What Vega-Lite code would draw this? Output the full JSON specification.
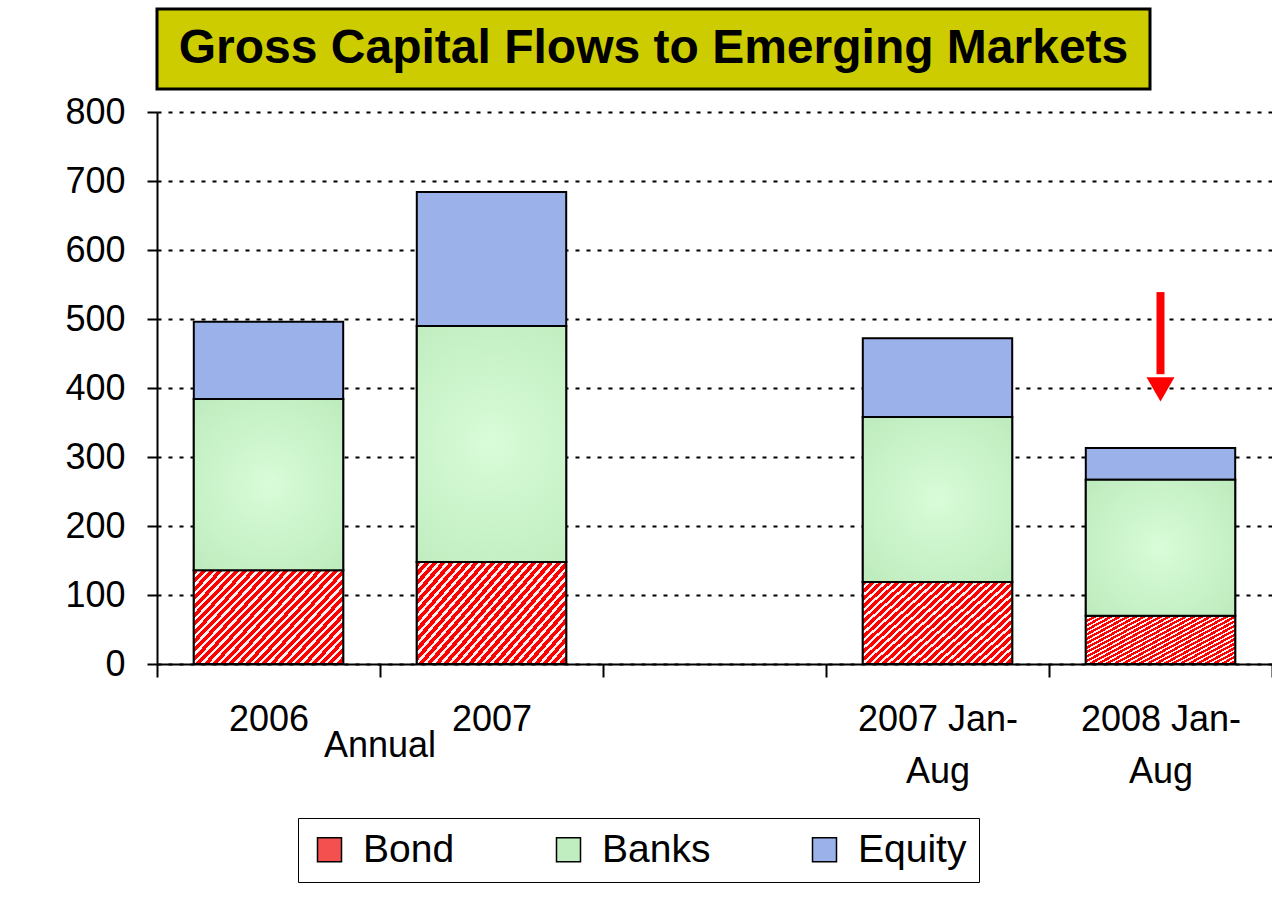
{
  "$schema": "https://vega.github.io/schema/vega-lite/v6.json",
  "padding": {"left": 35, "top": 7, "right": 0, "bottom": 5},
  "background": "white",
  "config": {"font": "Liberation Sans", "view": {"stroke": null}},
  "spacing": 3,
  "datasets": {
    "flows": [
      {"cat": "2006", "series": "Bond", "value": 136},
      {"cat": "2006", "series": "Banks", "value": 248},
      {"cat": "2006", "series": "Equity", "value": 112},
      {"cat": "2007", "series": "Bond", "value": 148},
      {"cat": "2007", "series": "Banks", "value": 342},
      {"cat": "2007", "series": "Equity", "value": 194},
      {"cat": "2007 Jan-Aug", "series": "Bond", "value": 119},
      {"cat": "2007 Jan-Aug", "series": "Banks", "value": 239},
      {"cat": "2007 Jan-Aug", "series": "Equity", "value": 114},
      {"cat": "2008 Jan-Aug", "series": "Bond", "value": 70},
      {"cat": "2008 Jan-Aug", "series": "Banks", "value": 197},
      {"cat": "2008 Jan-Aug", "series": "Equity", "value": 46}
    ],
    "arrow": [
      {"cat": "2008 Jan-Aug", "top": 539, "base": 420, "head": 398}
    ],
    "group": [
      {"cat": "2007", "t": "Annual"}
    ],
    "heading": [
      {"t": "Gross Capital Flows to Emerging Markets"}
    ]
  },
  "vconcat": [
    {
      "width": 993,
      "height": 80,
      "view": {"fill": "#CCCC00", "stroke": "black", "strokeWidth": 3},
      "data": {"name": "heading"},
      "mark": {"type": "text", "fontSize": 48, "fontWeight": "bold", "color": "black", "baseline": "middle", "align": "center"},
      "encoding": {
        "y": {"field": "t", "type": "nominal", "axis": {"title": null, "labels": false, "ticks": false, "domain": false, "grid": false, "minExtent": 120, "maxExtent": 120}},
        "text": {"field": "t", "type": "nominal"}
      }
    },
    {
      "width": 1115,
      "height": 552,
      "layer": [
        {
          "data": {"name": "flows"},
          "transform": [{"calculate": "indexof(['Bond','Banks','Equity'], datum.series)", "as": "ord"}],
          "mark": {"type": "bar", "stroke": "black", "strokeWidth": 2, "width": {"band": 0.67}},
          "encoding": {
            "x": {
              "field": "cat",
              "type": "nominal",
              "scale": {"domain": ["2006", "2007", " ", "2007 Jan-Aug", "2008 Jan-Aug"], "paddingInner": 0, "paddingOuter": 0},
              "axis": {
                "title": null,
                "labelExpr": "datum.value == '2007 Jan-Aug' ? ['2007 Jan-', 'Aug'] : datum.value == '2008 Jan-Aug' ? ['2008 Jan-', 'Aug'] : datum.label",
                "labelLineHeight": 52,
                "labelFontSize": 36,
                "labelColor": "black",
                "labelAngle": 0,
                "labelPadding": 25,
                "labelOverlap": false,
                "labelLimit": 400,
                "tickBand": "extent",
                "tickSize": 13,
                "tickColor": "black",
                "tickWidth": 2,
                "domainColor": "black",
                "domainWidth": 2,
                "grid": false
              }
            },
            "y": {
              "field": "value",
              "type": "quantitative",
              "stack": "zero",
              "scale": {"domain": [0, 800], "nice": false},
              "axis": {
                "title": null,
                "values": [0, 100, 200, 300, 400, 500, 600, 700, 800],
                "labelFontSize": 36,
                "labelColor": "black",
                "labelPadding": 22,
                "tickSize": 10,
                "tickColor": "black",
                "tickWidth": 2,
                "domainColor": "black",
                "domainWidth": 2,
                "grid": true,
                "gridColor": "black",
                "gridDash": [4, 7],
                "gridWidth": 2
              }
            },
            "order": {"field": "ord", "type": "quantitative"},
            "color": {
              "field": "series",
              "type": "nominal",
              "sort": ["Bond", "Banks", "Equity"],
              "scale": {"domain": ["Bond", "Banks", "Equity"], "range": ["#F55050", "#C0EEC0", "#9BB1EA"]},
              "legend": {
                "title": null,
                "orient": "none",
                "direction": "horizontal",
                "legendX": 141,
                "legendY": 809,
                "columns": 3,
                "strokeColor": "black",
                "padding": 12,
                "symbolType": "square",
                "symbolSize": 576,
                "symbolStrokeColor": "black",
                "symbolStrokeWidth": 1.5,
                "symbolOpacity": 1,
                "labelFontSize": 39,
                "labelColor": "black",
                "labelOffset": 14,
                "columnPadding": 94
              }
            }
          }
        },
        {
          "data": {"name": "flows"},
          "transform": [{"filter": "datum.series == 'Bond'"}],
          "mark": {
            "type": "bar",
            "stroke": "black",
            "strokeWidth": 2,
            "width": {"band": 0.67},
            "fill": {
              "gradient": "linear",
              "x1": 0, "y1": 0, "x2": 1.3, "y2": 0.78,
              "stops": [
                {"offset": 0, "color": "#FF0000"}, {"offset": 0.01875, "color": "#FF0000"}, {"offset": 0.01875, "color": "#FFF2F2"}, {"offset": 0.03125, "color": "#FFF2F2"},
                {"offset": 0.03125, "color": "#FF0000"}, {"offset": 0.05, "color": "#FF0000"}, {"offset": 0.05, "color": "#FFF2F2"}, {"offset": 0.0625, "color": "#FFF2F2"},
                {"offset": 0.0625, "color": "#FF0000"}, {"offset": 0.08125, "color": "#FF0000"}, {"offset": 0.08125, "color": "#FFF2F2"}, {"offset": 0.09375, "color": "#FFF2F2"},
                {"offset": 0.09375, "color": "#FF0000"}, {"offset": 0.1125, "color": "#FF0000"}, {"offset": 0.1125, "color": "#FFF2F2"}, {"offset": 0.125, "color": "#FFF2F2"},
                {"offset": 0.125, "color": "#FF0000"}, {"offset": 0.14375, "color": "#FF0000"}, {"offset": 0.14375, "color": "#FFF2F2"}, {"offset": 0.15625, "color": "#FFF2F2"},
                {"offset": 0.15625, "color": "#FF0000"}, {"offset": 0.175, "color": "#FF0000"}, {"offset": 0.175, "color": "#FFF2F2"}, {"offset": 0.1875, "color": "#FFF2F2"},
                {"offset": 0.1875, "color": "#FF0000"}, {"offset": 0.20625, "color": "#FF0000"}, {"offset": 0.20625, "color": "#FFF2F2"}, {"offset": 0.21875, "color": "#FFF2F2"},
                {"offset": 0.21875, "color": "#FF0000"}, {"offset": 0.2375, "color": "#FF0000"}, {"offset": 0.2375, "color": "#FFF2F2"}, {"offset": 0.25, "color": "#FFF2F2"},
                {"offset": 0.25, "color": "#FF0000"}, {"offset": 0.26875, "color": "#FF0000"}, {"offset": 0.26875, "color": "#FFF2F2"}, {"offset": 0.28125, "color": "#FFF2F2"},
                {"offset": 0.28125, "color": "#FF0000"}, {"offset": 0.3, "color": "#FF0000"}, {"offset": 0.3, "color": "#FFF2F2"}, {"offset": 0.3125, "color": "#FFF2F2"},
                {"offset": 0.3125, "color": "#FF0000"}, {"offset": 0.33125, "color": "#FF0000"}, {"offset": 0.33125, "color": "#FFF2F2"}, {"offset": 0.34375, "color": "#FFF2F2"},
                {"offset": 0.34375, "color": "#FF0000"}, {"offset": 0.3625, "color": "#FF0000"}, {"offset": 0.3625, "color": "#FFF2F2"}, {"offset": 0.375, "color": "#FFF2F2"},
                {"offset": 0.375, "color": "#FF0000"}, {"offset": 0.39375, "color": "#FF0000"}, {"offset": 0.39375, "color": "#FFF2F2"}, {"offset": 0.40625, "color": "#FFF2F2"},
                {"offset": 0.40625, "color": "#FF0000"}, {"offset": 0.425, "color": "#FF0000"}, {"offset": 0.425, "color": "#FFF2F2"}, {"offset": 0.4375, "color": "#FFF2F2"},
                {"offset": 0.4375, "color": "#FF0000"}, {"offset": 0.45625, "color": "#FF0000"}, {"offset": 0.45625, "color": "#FFF2F2"}, {"offset": 0.46875, "color": "#FFF2F2"},
                {"offset": 0.46875, "color": "#FF0000"}, {"offset": 0.4875, "color": "#FF0000"}, {"offset": 0.4875, "color": "#FFF2F2"}, {"offset": 0.5, "color": "#FFF2F2"},
                {"offset": 0.5, "color": "#FF0000"}, {"offset": 0.51875, "color": "#FF0000"}, {"offset": 0.51875, "color": "#FFF2F2"}, {"offset": 0.53125, "color": "#FFF2F2"},
                {"offset": 0.53125, "color": "#FF0000"}, {"offset": 0.55, "color": "#FF0000"}, {"offset": 0.55, "color": "#FFF2F2"}, {"offset": 0.5625, "color": "#FFF2F2"},
                {"offset": 0.5625, "color": "#FF0000"}, {"offset": 0.58125, "color": "#FF0000"}, {"offset": 0.58125, "color": "#FFF2F2"}, {"offset": 0.59375, "color": "#FFF2F2"},
                {"offset": 0.59375, "color": "#FF0000"}, {"offset": 0.6125, "color": "#FF0000"}, {"offset": 0.6125, "color": "#FFF2F2"}, {"offset": 0.625, "color": "#FFF2F2"},
                {"offset": 0.625, "color": "#FF0000"}, {"offset": 0.64375, "color": "#FF0000"}, {"offset": 0.64375, "color": "#FFF2F2"}, {"offset": 0.65625, "color": "#FFF2F2"},
                {"offset": 0.65625, "color": "#FF0000"}, {"offset": 0.675, "color": "#FF0000"}, {"offset": 0.675, "color": "#FFF2F2"}, {"offset": 0.6875, "color": "#FFF2F2"},
                {"offset": 0.6875, "color": "#FF0000"}, {"offset": 0.70625, "color": "#FF0000"}, {"offset": 0.70625, "color": "#FFF2F2"}, {"offset": 0.71875, "color": "#FFF2F2"},
                {"offset": 0.71875, "color": "#FF0000"}, {"offset": 0.7375, "color": "#FF0000"}, {"offset": 0.7375, "color": "#FFF2F2"}, {"offset": 0.75, "color": "#FFF2F2"},
                {"offset": 0.75, "color": "#FF0000"}, {"offset": 0.76875, "color": "#FF0000"}, {"offset": 0.76875, "color": "#FFF2F2"}, {"offset": 0.78125, "color": "#FFF2F2"},
                {"offset": 0.78125, "color": "#FF0000"}, {"offset": 0.8, "color": "#FF0000"}, {"offset": 0.8, "color": "#FFF2F2"}, {"offset": 0.8125, "color": "#FFF2F2"},
                {"offset": 0.8125, "color": "#FF0000"}, {"offset": 0.83125, "color": "#FF0000"}, {"offset": 0.83125, "color": "#FFF2F2"}, {"offset": 0.84375, "color": "#FFF2F2"},
                {"offset": 0.84375, "color": "#FF0000"}, {"offset": 0.8625, "color": "#FF0000"}, {"offset": 0.8625, "color": "#FFF2F2"}, {"offset": 0.875, "color": "#FFF2F2"},
                {"offset": 0.875, "color": "#FF0000"}, {"offset": 0.89375, "color": "#FF0000"}, {"offset": 0.89375, "color": "#FFF2F2"}, {"offset": 0.90625, "color": "#FFF2F2"},
                {"offset": 0.90625, "color": "#FF0000"}, {"offset": 0.925, "color": "#FF0000"}, {"offset": 0.925, "color": "#FFF2F2"}, {"offset": 0.9375, "color": "#FFF2F2"},
                {"offset": 0.9375, "color": "#FF0000"}, {"offset": 0.95625, "color": "#FF0000"}, {"offset": 0.95625, "color": "#FFF2F2"}, {"offset": 0.96875, "color": "#FFF2F2"},
                {"offset": 0.96875, "color": "#FF0000"}, {"offset": 0.9875, "color": "#FF0000"}, {"offset": 0.9875, "color": "#FFF2F2"}, {"offset": 1, "color": "#FFF2F2"}
              ]
            }
          },
          "encoding": {
            "x": {"field": "cat", "type": "nominal"},
            "y": {"field": "value", "type": "quantitative"}
          }
        },
        {
          "data": {"name": "flows"},
          "transform": [
            {"calculate": "indexof(['Bond','Banks','Equity'], datum.series)", "as": "ord"},
            {"stack": "value", "groupby": ["cat"], "sort": [{"field": "ord", "order": "ascending"}], "as": ["v0", "v1"]},
            {"filter": "datum.series == 'Banks'"}
          ],
          "mark": {
            "type": "bar",
            "stroke": "black",
            "strokeWidth": 2,
            "width": {"band": 0.67},
            "fill": {
              "gradient": "radial",
              "x1": 0.5, "y1": 0.5, "r1": 0, "x2": 0.5, "y2": 0.5, "r2": 0.75,
              "stops": [{"offset": 0, "color": "#D8FCD8"}, {"offset": 1, "color": "#BAE9BA"}]
            }
          },
          "encoding": {
            "x": {"field": "cat", "type": "nominal"},
            "y": {"field": "v0", "type": "quantitative"},
            "y2": {"field": "v1"}
          }
        },
        {
          "data": {"name": "group"},
          "mark": {"type": "text", "fontSize": 36, "color": "black", "align": "center", "baseline": "alphabetic"},
          "encoding": {
            "x": {"field": "cat", "type": "nominal", "bandPosition": 0},
            "y": {"datum": -135, "type": "quantitative"},
            "text": {"field": "t", "type": "nominal"}
          }
        },
        {
          "data": {"name": "arrow"},
          "mark": {"type": "rule", "color": "#FF0000", "strokeWidth": 8},
          "encoding": {
            "x": {"field": "cat", "type": "nominal"},
            "y": {"field": "top", "type": "quantitative"},
            "y2": {"field": "base"}
          }
        },
        {
          "data": {"name": "arrow"},
          "mark": {"type": "point", "shape": "triangle-down", "size": 784, "filled": true, "color": "#FF0000", "opacity": 1, "strokeWidth": 0},
          "encoding": {
            "x": {"field": "cat", "type": "nominal"},
            "y": {"field": "head", "type": "quantitative"}
          }
        }
      ]
    }
  ]
}
